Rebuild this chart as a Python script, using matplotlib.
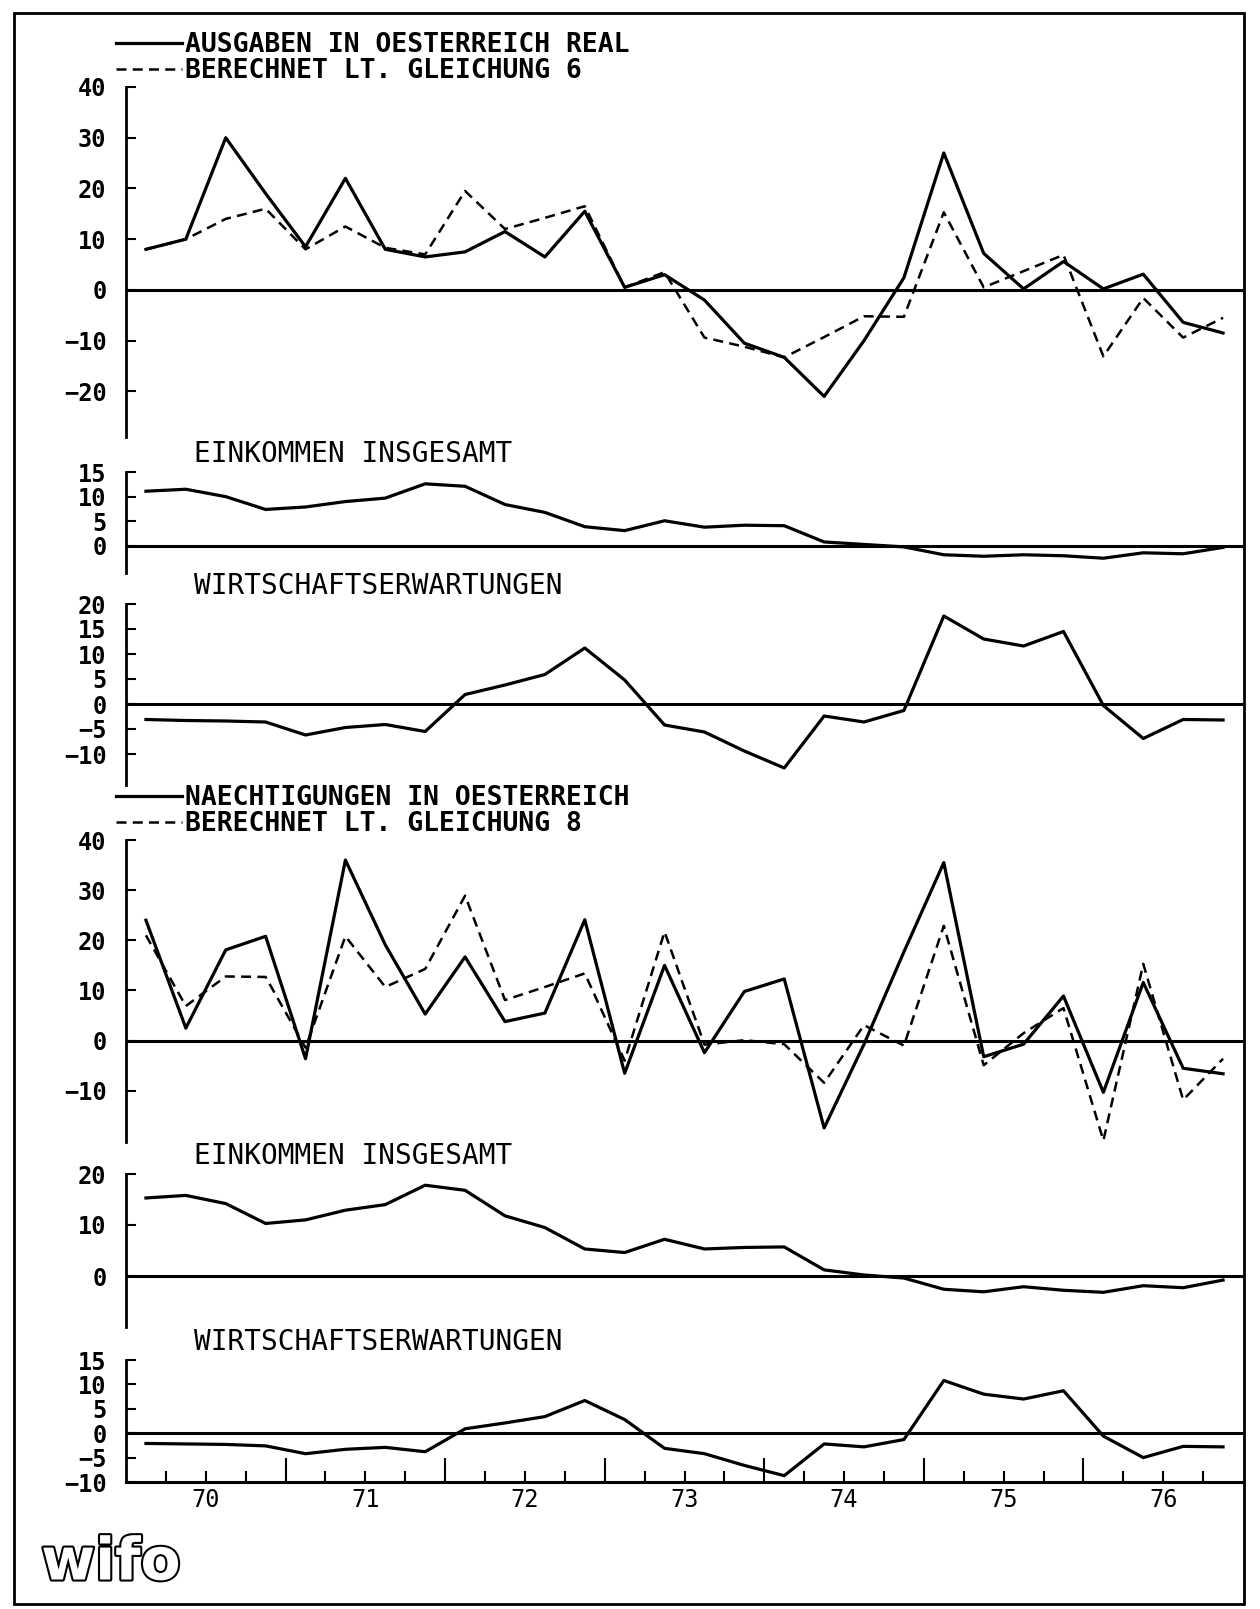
import numpy as np
import matplotlib.pyplot as plt
import matplotlib.patheffects as pe
from matplotlib.patches import Rectangle

plt.rcParams['font.family'] = ['DejaVu Sans Mono']

# quarterly values, 1970 I .. 1976 IV
ausgaben = [8, 10, 30, 19, 8.5, 22, 8, 6.5, 7.5, 11.5, 6.5, 15.5, 0.5, 3,
            -2, -10.5, -13.3, -21, -10, 2.4, 27, 7.2, 0.2, 5.6, 0.2, 3.1, -6.4, -8.5]
berechnet_6 = [8, 10, 14, 16, 8, 12.5, 8.3, 7, 19.5, 12, 14.2, 16.5, 0.5, 3.5,
               -9.4, -11.2, -13.3, -9.3, -5.2, -5.3, 15.3, 0.5, 3.7, 6.9, -13.1, -1.6, -9.4, -5.5]
einkommen_1 = [11.1, 11.5, 10.0, 7.4, 7.9, 9.0, 9.7, 12.6, 12.1, 8.4, 6.8, 3.9, 3.1, 5.1,
               3.8, 4.2, 4.1, 0.8, 0.3, -0.2, -1.8, -2.1, -1.8, -2.0, -2.5, -1.4, -1.6, -0.3]
wirtschaft_1 = [-3.1, -3.3, -3.4, -3.6, -6.2, -4.7, -4.1, -5.5, 1.9, 3.8, 5.9, 11.2, 4.8, -4.2,
                -5.6, -9.4, -12.8, -2.4, -3.6, -1.3, 17.6, 13.0, 11.6, 14.5, -0.3, -6.9, -3.1, -3.2]
naechtigungen = [24.0, 2.5, 18.1, 20.8, -3.6, 36.0, 19.1, 5.3, 16.7, 3.8, 5.5, 24.1, -6.5, 15.0,
                 -2.4, 9.8, 12.3, -17.4, -0.7, 17.7, 35.5, -3.2, -0.7, 8.9, -10.3, 11.6, -5.5, -6.6]
berechnet_8 = [21.0, 6.9, 12.8, 12.7, -1.4, 20.8, 10.7, 14.3, 28.9, 8.1, 10.7, 13.4, -4, 21.7,
               -0.8, 0.1, -0.7, -8.4, 3.1, -1.0, 22.9, -4.9, 1.5, 6.5, -19.9, 15.3, -11.8, -3.6]
einkommen_2 = [15.3, 15.8, 14.2, 10.3, 11.0, 12.9, 14.0, 17.8, 16.8, 11.8, 9.5, 5.3, 4.6, 7.2,
               5.3, 5.6, 5.7, 1.2, 0.2, -0.4, -2.6, -3.1, -2.1, -2.8, -3.2, -1.9, -2.3, -0.8]
wirtschaft_2 = [-2.1, -2.2, -2.3, -2.6, -4.2, -3.3, -2.9, -3.8, 0.9, 2.1, 3.4, 6.7, 2.8, -3.1,
                -4.2, -6.6, -8.7, -2.2, -2.8, -1.3, 10.8, 8.0, 7.0, 8.7, -0.6, -5.0, -2.7, -2.8]

year_labels = ['70', '71', '72', '73', '74', '75', '76']

quarters = 1970 + (np.arange(len(ausgaben)) + 0.5) / 4

W, H = 1260, 1609
fig = plt.figure(figsize=(W / 100, H / 100), dpi=100)

X0, X1 = 126, 1243


def add_panel(top, bottom, ylim, yticks):
    ax = fig.add_axes([X0 / W, 1 - bottom / H, (X1 - X0) / W, (bottom - top) / H])
    ax.set_facecolor('none')
    ax.set_xlim(1970, 1977)
    ax.set_ylim(*ylim)
    ax.set_yticks(yticks)
    ax.tick_params(axis='y', direction='in', length=7, width=1.5, pad=14,
                   labelsize=17)
    for lab in ax.get_yticklabels():
        lab.set_fontweight('bold')
    ax.tick_params(axis='x', bottom=False, labelbottom=False)
    for s in ['top', 'right', 'bottom']:
        ax.spines[s].set_visible(False)
    ax.spines['left'].set_linewidth(2)
    ax.axhline(0, color='black', lw=2.2)
    return ax


def title(ax, text):
    ax.annotate(text, xy=(0, 1), xycoords='axes fraction', xytext=(68, 18),
                textcoords='offset pixels', ha='left', va='center', fontsize=20)


solid = dict(color='black', lw=2.3)
dashed = dict(color='black', lw=1.8, ls=(0, (4, 2.5)))
leg_kw = dict(loc='lower left', bbox_to_anchor=(-0.011, 1.0), frameon=False,
              prop={'weight': 'bold', 'size': 19}, handlelength=2.5,
              handletextpad=0.1, labelspacing=0.0, borderpad=0, borderaxespad=0.1)

# 1: Ausgaben
ax1 = add_panel(87, 437, (-29, 40), [-20, -10, 0, 10, 20, 30, 40])
ax1.plot(quarters, ausgaben, label='AUSGABEN IN OESTERREICH REAL', **solid)
ax1.plot(quarters, berechnet_6, label='BERECHNET LT. GLEICHUNG 6', **dashed)
ax1.legend(**leg_kw)

# 2: Einkommen
ax2 = add_panel(472, 573, (-5.5, 15), [0, 5, 10, 15])
ax2.plot(quarters, einkommen_1, **solid)
title(ax2, 'EINKOMMEN INSGESAMT')

# 3: Wirtschaftserwartungen
ax3 = add_panel(604, 785, (-16.2, 20), [-10, -5, 0, 5, 10, 15, 20])
ax3.plot(quarters, wirtschaft_1, **solid)
title(ax3, 'WIRTSCHAFTSERWARTUNGEN')

# 4: Naechtigungen
ax4 = add_panel(840, 1142, (-20.2, 40), [-10, 0, 10, 20, 30, 40])
ax4.plot(quarters, naechtigungen, label='NAECHTIGUNGEN IN OESTERREICH', **solid)
ax4.plot(quarters, berechnet_8, label='BERECHNET LT. GLEICHUNG 8', **dashed)
ax4.legend(**leg_kw)

# 5: Einkommen
ax5 = add_panel(1174, 1327, (-10, 20), [0, 10, 20])
ax5.plot(quarters, einkommen_2, **solid)
title(ax5, 'EINKOMMEN INSGESAMT')

# 6: Wirtschaftserwartungen with time axis
ax6 = add_panel(1360, 1482, (-10, 15), [-10, -5, 0, 5, 10, 15])
ax6.plot(quarters, wirtschaft_2, **solid)
title(ax6, 'WIRTSCHAFTSERWARTUNGEN')
ax6.spines['bottom'].set_visible(True)
ax6.spines['bottom'].set_linewidth(2.2)
ax6.set_xticks(np.arange(1971, 1977))
ax6.set_xticks([q for q in np.arange(1970.25, 1977, 0.25) if q % 1 != 0], minor=True)
ax6.tick_params(axis='x', which='major', bottom=True, direction='in', length=17, width=1.5)
ax6.tick_params(axis='x', which='minor', bottom=True, direction='in', length=8, width=1.5)
for i, lab in enumerate(year_labels):
    ax6.annotate(lab, xy=(1970.5 + i, 0), xycoords=('data', 'axes fraction'),
                 xytext=(0, -18), textcoords='offset pixels', ha='center', va='center',
                 fontsize=17)

# frame and logo
fig.add_artist(Rectangle((14 / W, 1 - 1604 / H), (1244 - 14) / W, (1604 - 13) / H,
                         transform=fig.transFigure, fill=False, lw=2, ec='black'))
fig.text(111 / W, 1 - 1563 / H, 'wifo', family='DejaVu Sans', fontsize=42,
         fontweight='bold', color='white', ha='center', va='center',
         path_effects=[pe.withStroke(linewidth=3, foreground='black')])

fig.savefig('out.png', dpi=100)
